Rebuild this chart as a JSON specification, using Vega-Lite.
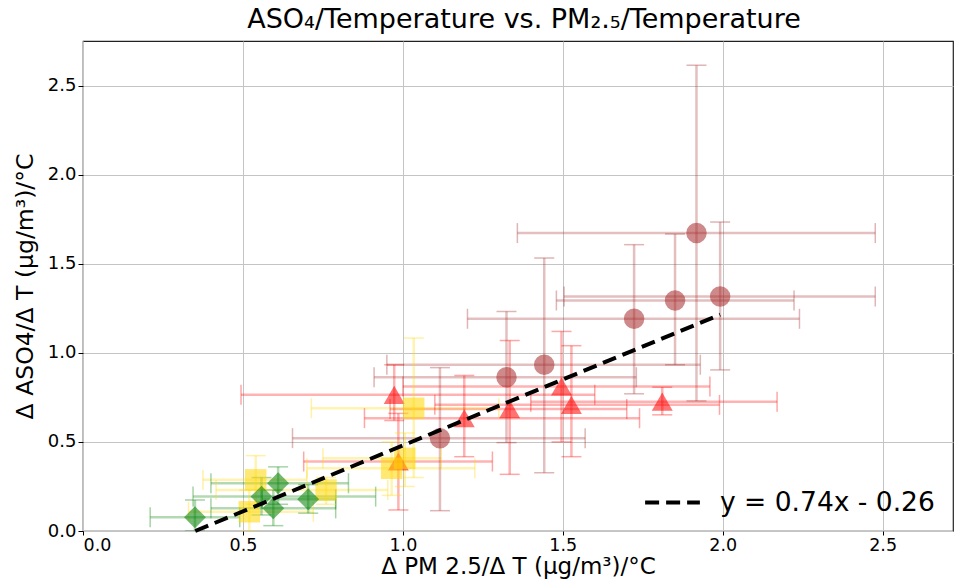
{
  "$schema": "https://vega.github.io/schema/vega-lite/v6.json",
  "width": 870,
  "height": 490,
  "autosize": {"type": "none"},
  "padding": {"left": 83, "top": 41, "right": 2, "bottom": 52},
  "background": "white",
  "title": {"text": "ASO₄/Temperature vs. PM₂.₅/Temperature", "font": "DejaVu Sans", "fontSize": 27, "fontWeight": "normal", "color": "black", "offset": 7, "dx": 6},
  "config": {
    "font": "DejaVu Sans",
    "view": {"stroke": "#222", "strokeWidth": 1.2},
    "axis": {"labelFont": "DejaVu Sans", "titleFont": "DejaVu Sans", "labelFontSize": 18, "titleFontSize": 23.5, "titleFontWeight": "normal", "labelColor": "black", "titleColor": "black", "gridColor": "#c4c4c4", "gridWidth": 1, "domain": false, "tickColor": "black", "tickSize": 5}
  },
  "datasets": {
    "pts": [
      {"s": "A", "x": 1.116, "y": 0.521, "xlo": 0.655, "xhi": 1.57, "ylo": 0.114, "yhi": 0.917},
      {"s": "A", "x": 1.324, "y": 0.863, "xlo": 0.91, "xhi": 1.73, "ylo": 0.496, "yhi": 1.232},
      {"s": "A", "x": 1.442, "y": 0.933, "xlo": 0.95, "xhi": 1.93, "ylo": 0.327, "yhi": 1.532},
      {"s": "A", "x": 1.723, "y": 1.191, "xlo": 1.202, "xhi": 2.24, "ylo": 0.77, "yhi": 1.607},
      {"s": "A", "x": 1.851, "y": 1.294, "xlo": 1.48, "xhi": 2.223, "ylo": 0.933, "yhi": 1.667},
      {"s": "A", "x": 1.918, "y": 1.672, "xlo": 1.358, "xhi": 2.477, "ylo": 0.73, "yhi": 2.614},
      {"s": "A", "x": 1.992, "y": 1.316, "xlo": 1.504, "xhi": 2.477, "ylo": 0.904, "yhi": 1.734},
      {"s": "B", "x": 0.973, "y": 0.764, "xlo": 0.494, "xhi": 1.6, "ylo": 0.62, "yhi": 0.933},
      {"s": "B", "x": 0.986, "y": 0.39, "xlo": 0.69, "xhi": 1.28, "ylo": 0.118, "yhi": 0.66},
      {"s": "B", "x": 1.192, "y": 0.633, "xlo": 0.88, "xhi": 1.74, "ylo": 0.417, "yhi": 0.873},
      {"s": "B", "x": 1.334, "y": 0.684, "xlo": 0.96, "xhi": 1.7, "ylo": 0.318, "yhi": 1.069},
      {"s": "B", "x": 1.496, "y": 0.811, "xlo": 1.0, "xhi": 1.96, "ylo": 0.5, "yhi": 1.12},
      {"s": "B", "x": 1.527, "y": 0.708, "xlo": 1.1, "xhi": 1.99, "ylo": 0.417, "yhi": 1.04},
      {"s": "B", "x": 1.811, "y": 0.726, "xlo": 1.4, "xhi": 2.17, "ylo": 0.652, "yhi": 0.807},
      {"s": "C", "x": 0.52, "y": 0.108, "xlo": 0.33, "xhi": 0.72, "ylo": 0.0, "yhi": 0.23},
      {"s": "C", "x": 0.54, "y": 0.287, "xlo": 0.375, "xhi": 0.7, "ylo": 0.15, "yhi": 0.423},
      {"s": "C", "x": 0.76, "y": 0.23, "xlo": 0.416, "xhi": 0.953, "ylo": 0.15, "yhi": 0.3},
      {"s": "C", "x": 0.965, "y": 0.352, "xlo": 0.7, "xhi": 1.225, "ylo": 0.2, "yhi": 0.5},
      {"s": "C", "x": 1.006, "y": 0.408, "xlo": 0.75, "xhi": 1.12, "ylo": 0.25, "yhi": 0.55},
      {"s": "C", "x": 1.034, "y": 0.689, "xlo": 0.714, "xhi": 1.3, "ylo": 0.3, "yhi": 1.083},
      {"s": "D", "x": 0.35, "y": 0.077, "xlo": 0.21, "xhi": 0.49, "ylo": 0.0, "yhi": 0.174},
      {"s": "D", "x": 0.558, "y": 0.193, "xlo": 0.344, "xhi": 0.915, "ylo": 0.09, "yhi": 0.3},
      {"s": "D", "x": 0.595, "y": 0.127, "xlo": 0.4, "xhi": 0.79, "ylo": 0.03, "yhi": 0.23},
      {"s": "D", "x": 0.61, "y": 0.268, "xlo": 0.4, "xhi": 0.83, "ylo": 0.15, "yhi": 0.36},
      {"s": "D", "x": 0.704, "y": 0.178, "xlo": 0.56, "xhi": 0.79, "ylo": 0.1, "yhi": 0.26}
    ],
    "fit": [
      {"x": 0.351, "y": 0.0, "label": "y = 0.74x - 0.26"},
      {"x": 1.992, "y": 1.214, "label": "y = 0.74x - 0.26"}
    ]
  },
  "layer": [
    {
      "data": {"name": "pts"},
      "mark": {"type": "rule", "strokeWidth": 2.5, "opacity": 0.3, "clip": true},
      "encoding": {
        "x": {"field": "xlo", "type": "quantitative", "scale": {"domain": [0, 2.72], "nice": false, "zero": false}, "axis": {"values": [0, 0.5, 1, 1.5, 2, 2.5], "format": ".1f", "title": "Δ PM 2.5/Δ T (μg/m³)/°C", "tickSize": 4, "labelPadding": 1, "labelFontSize": 17.5, "titlePadding": 2, "titleFontSize": 23}},
        "x2": {"field": "xhi"},
        "y": {"field": "y", "type": "quantitative", "scale": {"domain": [0, 2.75], "nice": false, "zero": false}, "axis": {"values": [0, 0.5, 1, 1.5, 2, 2.5], "format": ".1f", "title": "Δ ASO4/Δ T (μg/m³)/°C", "titlePadding": 10}},
        "color": {"field": "s", "type": "nominal", "scale": {"domain": ["A", "B", "C", "D"], "range": ["#a52a2a", "#ff0000", "#ffd700", "#008000"]}, "legend": null}
      }
    },
    {
      "data": {"name": "pts"},
      "mark": {"type": "rule", "strokeWidth": 2.5, "opacity": 0.3, "clip": true},
      "encoding": {
        "x": {"field": "x", "type": "quantitative"},
        "y": {"field": "ylo", "type": "quantitative"},
        "y2": {"field": "yhi"},
        "color": {"field": "s", "type": "nominal", "legend": null}
      }
    },
    {
      "data": {"name": "pts"},
      "mark": {"type": "tick", "orient": "vertical", "size": 20, "thickness": 1.5, "opacity": 0.35, "clip": true},
      "encoding": {
        "x": {"field": "xlo", "type": "quantitative"},
        "y": {"field": "y", "type": "quantitative"},
        "color": {"field": "s", "type": "nominal", "legend": null}
      }
    },
    {
      "data": {"name": "pts"},
      "mark": {"type": "tick", "orient": "vertical", "size": 20, "thickness": 1.5, "opacity": 0.35, "clip": true},
      "encoding": {
        "x": {"field": "xhi", "type": "quantitative"},
        "y": {"field": "y", "type": "quantitative"},
        "color": {"field": "s", "type": "nominal", "legend": null}
      }
    },
    {
      "data": {"name": "pts"},
      "mark": {"type": "tick", "orient": "horizontal", "size": 20, "thickness": 1.5, "opacity": 0.35, "clip": true},
      "encoding": {
        "x": {"field": "x", "type": "quantitative"},
        "y": {"field": "ylo", "type": "quantitative"},
        "color": {"field": "s", "type": "nominal", "legend": null}
      }
    },
    {
      "data": {"name": "pts"},
      "mark": {"type": "tick", "orient": "horizontal", "size": 20, "thickness": 1.5, "opacity": 0.35, "clip": true},
      "encoding": {
        "x": {"field": "x", "type": "quantitative"},
        "y": {"field": "yhi", "type": "quantitative"},
        "color": {"field": "s", "type": "nominal", "legend": null}
      }
    },
    {
      "data": {"name": "pts"},
      "mark": {"type": "point", "filled": true, "opacity": 0.55, "strokeWidth": 0},
      "encoding": {
        "x": {"field": "x", "type": "quantitative"},
        "y": {"field": "y", "type": "quantitative"},
        "color": {"field": "s", "type": "nominal", "legend": null},
        "size": {"field": "s", "type": "nominal", "scale": {"domain": ["A", "B", "C", "D"], "range": [420, 480, 500, 850]}, "legend": null},
        "shape": {"field": "s", "type": "nominal", "scale": {"domain": ["A", "B", "C", "D"], "range": ["circle", "triangle-up", "square", "diamond"]}, "legend": null}
      }
    },
    {
      "data": {"name": "fit"},
      "mark": {"type": "line", "color": "black", "strokeWidth": 4},
      "encoding": {
        "x": {"field": "x", "type": "quantitative"},
        "y": {"field": "y", "type": "quantitative"},
        "strokeDash": {"field": "label", "type": "nominal", "scale": {"range": [[14, 7]]}, "legend": {"title": null, "orient": "none", "legendX": 560, "legendY": 432, "labelFontSize": 26.5, "labelFont": "DejaVu Sans", "labelColor": "black", "labelLimit": 0, "symbolType": "stroke", "symbolSize": 3000, "symbolStrokeWidth": 4, "symbolStrokeColor": "black", "labelOffset": 18}}
      }
    }
  ]
}
